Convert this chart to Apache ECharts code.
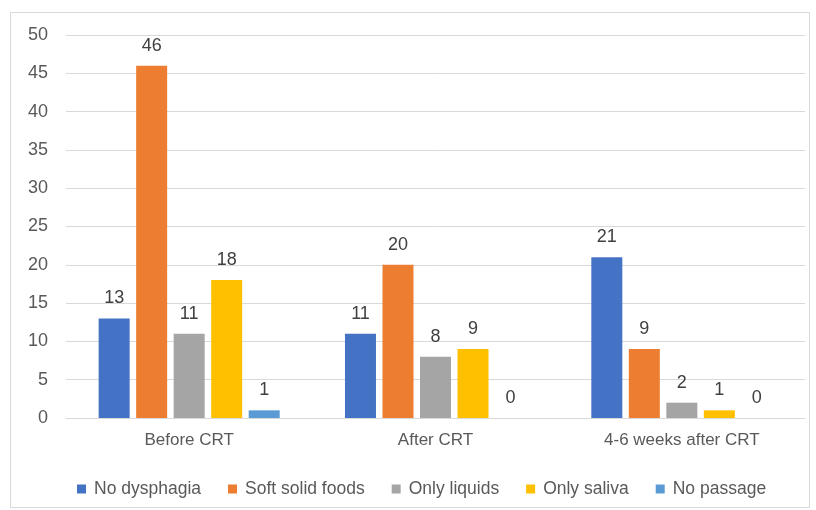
<!DOCTYPE html>
<html><head><meta charset="utf-8">
<script src="https://cdn.jsdelivr.net/npm/echarts@6/dist/echarts.min.js"></script>
<style>html,body{margin:0;padding:0;background:#fff}#c{width:816px;height:510px}</style>
</head><body><div id="c"></div>
<script>
const categories = ['Before CRT', 'After CRT', '4-6 weeks after CRT'];
const seriesNames = ['No dysphagia', 'Soft solid foods', 'Only liquids', 'Only saliva', 'No passage'];
const noDysphagia = [13, 11, 21];
const softSolidFoods = [46, 20, 9];
const onlyLiquids = [11, 8, 2];
const onlySaliva = [18, 9, 1];
const noPassage = [1, 0, 0];
const yTicks = [0, 5, 10, 15, 20, 25, 30, 35, 40, 45, 50];

const colors = ['#4472C4', '#ED7D31', '#A5A5A5', '#FFC000', '#5B9BD5'];
const values = [noDysphagia, softSolidFoods, onlyLiquids, onlySaliva, noPassage];
const font = 'Liberation Sans';
const chart = echarts.init(document.getElementById('c'));
chart.setOption({
  animation: false,
  textStyle: { fontFamily: font },
  graphic: [{ type: 'rect', shape: { x: 10.5, y: 12.5, width: 799, height: 495 }, style: { fill: 'none', stroke: '#d9d9d9', lineWidth: 1 }, silent: true }],
  grid: { left: 66, right: 11, top: 35, bottom: 92 },
  legend: {
    top: 475, left: 72, itemWidth: 9, itemHeight: 9, itemGap: 27,
    icon: 'rect',
    textStyle: { color: '#595959', fontSize: 17.5, fontFamily: font, padding: [0, 0, 0, 3] },
    data: seriesNames
  },
  xAxis: {
    type: 'category', data: categories,
    axisLine: { lineStyle: { color: '#d9d9d9' } },
    axisTick: { show: false },
    axisLabel: { color: '#595959', fontSize: 17, margin: 14, fontFamily: font }
  },
  yAxis: {
    type: 'value', min: yTicks[0], max: yTicks[yTicks.length - 1], interval: 5,
    axisLine: { show: false }, axisTick: { show: false },
    splitLine: { lineStyle: { color: '#d9d9d9' } },
    axisLabel: { color: '#595959', fontSize: 18, margin: 18, fontFamily: font }
  },
  series: seriesNames.map((n, i) => ({
    name: n, type: 'bar', data: values[i],
    barWidth: 31, barGap: '21%',
    itemStyle: { color: colors[i] },
    label: { show: true, position: 'top', distance: 11, color: '#404040', fontSize: 18, fontFamily: font }
  }))
});
</script></body></html>
